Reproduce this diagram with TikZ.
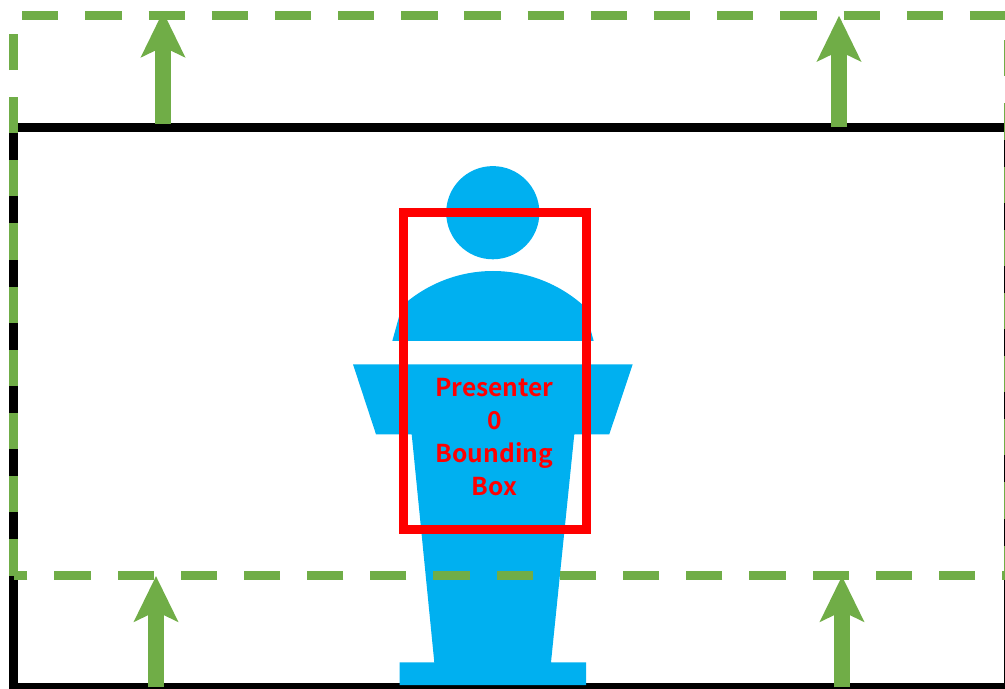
\documentclass[tikz,border=0pt]{standalone}
\usepackage{fontspec}
\newfontfamily\labelfont{Noto Sans CJK SC}[BoldFont={Noto Sans CJK SC Bold}]
\usetikzlibrary{arrows.meta}
\definecolor{presblue}{HTML}{00B0F0}
\definecolor{boxgreen}{HTML}{70AD47}

\begin{document}
\begin{tikzpicture}[
    x=0.02cm, y=-0.02cm,
    frame/.style={draw=black, line width=0.18cm},
    moved/.style={draw=boxgreen, line width=0.18cm, dash pattern=on 0.724cm off 0.54cm},
    shift arrow/.style={draw=boxgreen, line width=0.31cm, -{Stealth[length=0.906cm, width=0.866cm, inset=0.2cm]}},
    podium/.style={fill=presblue},
    label/.style={text=red, font=\labelfont\fontsize{14}{18.8}\selectfont\bfseries, align=center}
]
  \clip (0,0) rectangle (1005,689);
  \draw[frame] (13.5,127.5) rectangle (1008.5,687.5);
  % presenter and lectern
  \fill[podium] (492.8,212.7) circle [radius=46.6];
  \fill[podium] (392.3,341) -- (402,306) .. controls (427,283.5) and (459.4,271) .. (493,271)
     .. controls (526.6,271) and (559,283.5) .. (584,306) -- (593.7,341) -- cycle;
  \fill[podium] (353,364.3) -- (632.7,364.3) -- (609.3,434.3) -- (574.3,434.3) -- (551,662.3)
     -- (586,662.3) -- (586,685) -- (399.7,685) -- (399.7,662.3) -- (434.3,662.3)
     -- (411.7,434.3) -- (376,434.3) -- cycle;
  % moved frame
  \draw[moved] (13.5,575.5) -- (13.5,15.5) -- (1008.5,15.5) -- (1008.5,575.5) -- cycle;
  \foreach \n/\x/\ya/\yb in {a/163/123.7/11.5, b/839/127.3/15.7, c/156/687.3/576, d/842/687.3/576} {
    \coordinate (from\n) at (\x,\ya);
    \coordinate (to\n) at (\x,\yb);
    \draw[shift arrow] (from\n) -- (to\n);
  }
  \draw[draw=red, line width=0.18cm] (403,212.5) rectangle (586,529.5);
  \node[label] (boxlabel) at (494.5,437.3) {Presenter\\0\\Bounding\\Box};
\end{tikzpicture}
\end{document}
